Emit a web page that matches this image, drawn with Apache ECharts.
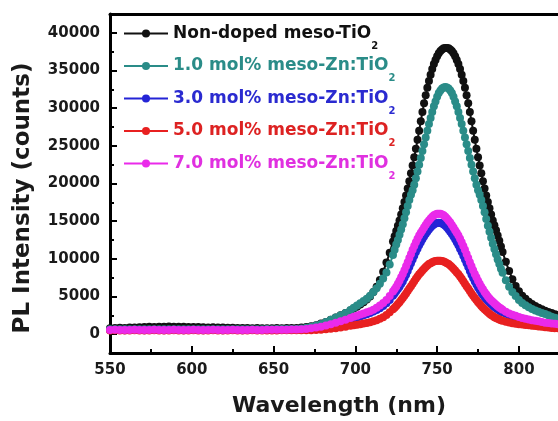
<!DOCTYPE html>
<html><head><meta charset="utf-8">
<script src="https://cdn.jsdelivr.net/npm/echarts@6/dist/echarts.min.js"></script>
<style>html,body{margin:0;padding:0;background:#fff}#c{width:558px;height:421px}</style>
</head><body><div id="c"></div>
<script>
// ---------- data ----------
const wavelength = [
550,553,556,559,562,565,568,571,574,577,580,583,586,589,592,595,598,601,604,607,610,613,616,619,622,625,628,631,634,637,640,643,646,649,652,655,658,661,
664,667,670,673,676,679,682,685,688,691,694,697,
699,701,703,705,707,709,711,713,715,717,719,721,723,
724,725,726,727,728,729,730,731,732,733,
734,735,736,737,738,739,740,741,742,743,
744,745,746,747,748,749,750,751,752,753,
754,755,756,757,758,759,760,761,762,763,
764,765,766,767,768,769,770,771,772,773,
774,775,776,777,778,779,780,781,782,783,
784,785,786,787,788,789,790,
792,794,796,798,800,802,804,806,808,810,812,814,816,818,820,822,824,826,828,830];

const nonDoped = [
800,820,850,830,870,900,920,950,980,960,1000,980,1010,990,970,990,960,940,950,920,900,910,880,870,850,840,830,820,810,800,810,800,790,800,810,800,810,820,
830,870,950,1050,1200,1400,1600,1900,2200,2500,2800,3150,
3400,3650,3950,4250,4600,5000,5600,6300,7200,8300,9500,10800,12300,
13000,13700,14400,15100,15900,16700,17550,18400,19350,20300,
21350,22400,23500,24600,25800,27000,28250,29500,30650,31700,
32700,33600,34450,35200,35850,36400,36900,37300,37600,37800,
37950,38000,38000,37950,37800,37600,37300,36900,36400,35850,
35200,34450,33600,32700,31700,30650,29500,28250,27000,25800,
24600,23500,22400,21350,20300,19350,18400,17550,16700,15900,
15100,14450,13800,13100,12400,11650,10900,
9600,8400,7300,6400,5700,5100,4700,4300,4000,3750,3500,3300,3100,2950,2800,2650,2500,2350,2250,2150];

const zn10 = [
650,640,660,650,640,660,650,640,650,660,650,640,650,660,650,640,650,660,650,640,650,660,650,640,650,660,650,640,650,660,650,660,670,660,670,680,690,700,
700,750,850,1000,1150,1350,1600,1900,2200,2500,2800,3200,
3500,3800,4100,4400,4700,5100,5600,6100,6700,7400,8200,9250,10500,
11200,11900,12500,13200,13900,14600,15400,16200,17000,17800,
18500,19100,19850,20700,21600,22500,23400,24300,25200,26100,
27000,27900,28700,29500,30250,30900,31500,32000,32350,32600,
32750,32800,32750,32600,32350,32000,31500,30900,30250,29500,
28700,27900,27000,26100,25200,24300,23400,22500,21600,20700,
19850,19100,18500,17800,17000,16200,15300,14400,13600,12800,
12000,11300,10600,9900,9300,8700,8150,
7150,6300,5600,5050,4550,4150,3850,3580,3350,3150,2970,2820,2680,2500,2320,2180,2050,1950,1850,1750];

const zn30 = [
540,550,540,530,540,550,540,530,540,550,540,530,540,550,540,530,540,550,540,530,540,550,540,530,540,550,540,530,540,550,540,545,550,555,560,565,570,580,
590,600,640,700,780,880,1000,1150,1320,1500,1700,1900,
2050,2200,2350,2500,2650,2800,3000,3200,3450,3750,4100,4550,5100,
5400,5700,6000,6300,6650,7000,7450,7900,8400,8900,
9400,9900,10400,10900,11350,11800,12200,12600,12950,13300,
13600,13900,14170,14400,14570,14700,14770,14800,14770,14700,
14570,14400,14170,13900,13600,13300,12950,12600,12200,11800,
11350,10900,10400,9900,9400,8900,8400,7900,7450,7000,
6600,6200,5850,5500,5200,4900,4650,4400,4200,4000,
3800,3600,3450,3300,3150,3000,2900,
2700,2500,2380,2250,2130,2020,1920,1820,1730,1650,1580,1500,1420,1370,1320,1280,1240,1200,1160,1120];

const zn50 = [
500,510,500,490,500,510,500,490,500,510,500,490,500,510,500,490,500,510,500,490,500,510,500,490,500,510,500,490,500,510,500,500,500,500,500,505,505,505,
505,510,520,530,560,600,650,720,800,900,1000,1120,
1180,1250,1320,1400,1480,1580,1700,1850,2050,2250,2550,2900,3300,
3520,3750,4000,4250,4520,4800,5100,5400,5720,6050,
6370,6700,7020,7350,7650,7950,8200,8450,8680,8900,
9100,9300,9430,9550,9630,9700,9730,9750,9730,9700,
9630,9550,9430,9300,9100,8900,8680,8450,8200,7950,
7650,7350,7020,6700,6370,6050,5720,5400,5100,4800,
4520,4250,4000,3750,3520,3300,3100,2900,2720,2550,
2400,2250,2150,2050,1950,1850,1780,
1650,1550,1450,1380,1320,1270,1220,1170,1120,1070,1020,970,920,880,830,800,780,760,740,720];

const zn70 = [
560,570,560,550,560,570,560,550,560,570,560,550,560,570,560,550,560,570,560,550,560,570,560,550,560,570,560,550,560,570,560,560,570,580,580,590,600,610,
630,650,700,780,880,1000,1150,1300,1500,1700,1920,2150,
2300,2450,2600,2750,2900,3050,3250,3500,3800,4150,4550,5050,5650,
5950,6300,6700,7100,7550,8000,8500,9000,9550,10100,
10650,11200,11700,12200,12650,13100,13450,13800,14150,14500,
14820,15100,15370,15600,15770,15900,15970,16000,15970,15900,
15770,15600,15370,15100,14820,14500,14150,13800,13450,13100,
12650,12200,11700,11200,10650,10100,9550,9000,8500,8000,
7550,7100,6700,6300,5950,5600,5300,5000,4750,4500,
4300,4100,3900,3700,3550,3400,3250,
2980,2750,2580,2430,2280,2150,2050,1950,1850,1780,1700,1600,1520,1480,1430,1380,1330,1290,1260,1230];

const seriesNames = [
  'Non-doped meso-TiO2',
  '1.0 mol% meso-Zn:TiO2',
  '3.0 mol% meso-Zn:TiO2',
  '5.0 mol% meso-Zn:TiO2',
  '7.0 mol% meso-Zn:TiO2'
];
const seriesValues = [nonDoped, zn10, zn30, zn50, zn70];
const xTickMin = 550, xTickMax = 830, xTickStep = 50;
const yTickMin = 0, yTickMax = 40000, yTickStep = 5000;

// ---------- style ----------
const FONT = '"DejaVu Sans", sans-serif';
const lineColors = ['#111111', '#2a8c88', '#2424d6', '#e82020', '#ea2aea'];
const textColors = ['#111111', '#2a8c88', '#2a2ad0', '#dd2222', '#e030e0'];
const legendCenters = [33.5, 66, 98.5, 131, 163.5];

const chart = echarts.init(document.getElementById('c'), null, {renderer: 'canvas'});
const tickStyle = {color: '#000', width: 2};
const labelStyle = {color: '#1a1a1a', fontFamily: FONT, fontWeight: 'bold', fontSize: 15};

const option = {
  animation: false,
  backgroundColor: '#ffffff',
  grid: [
    {left: 110, top: 14, width: 458, height: 339, containLabel: false, outerBoundsMode: 'none'},
    {left: 110, top: 14, width: 458, height: 320.17, containLabel: false, outerBoundsMode: 'none'}
  ],
  xAxis: [
    {gridIndex: 0, type: 'value', min: xTickMin, max: xTickMax, interval: xTickStep, position: 'bottom',
     axisLine: {show: true, onZero: false, lineStyle: {color: '#000', width: 3}},
     axisTick: {show: true, inside: true, length: 7, lineStyle: tickStyle},
     axisLabel: Object.assign({margin: 10, formatter: v => (v <= 800 ? String(v) : '')}, labelStyle),
     splitLine: {show: false},
     name: 'Wavelength (nm)', nameLocation: 'middle', nameGap: 42,
     nameTextStyle: {color: '#1a1a1a', fontFamily: FONT, fontWeight: 'bold', fontSize: 22}},
    {gridIndex: 0, type: 'value', min: xTickMin, max: xTickMax, interval: xTickStep / 2, position: 'bottom',
     axisLine: {show: false, onZero: false},
     axisTick: {show: true, inside: true, length: 4, lineStyle: tickStyle},
     axisLabel: {show: false}, splitLine: {show: false}},
    {gridIndex: 0, type: 'value', min: xTickMin, max: xTickMax, position: 'top',
     axisLine: {show: true, onZero: false, lineStyle: {color: '#000', width: 3}},
     axisTick: {show: false}, axisLabel: {show: false}, splitLine: {show: false}},
    {gridIndex: 1, type: 'value', min: xTickMin, max: xTickMax, show: false,
     axisLine: {onZero: false}, splitLine: {show: false}}
  ],
  yAxis: [
    {gridIndex: 0, type: 'value', min: -2500, max: 42500, interval: yTickStep / 2, position: 'left',
     axisLine: {show: true, onZero: false, lineStyle: {color: '#000', width: 3}},
     axisTick: {show: true, inside: true, length: 4, lineStyle: tickStyle},
     axisLabel: {show: false}, splitLine: {show: false}},
    {gridIndex: 1, type: 'value', min: yTickMin, max: 42500, interval: yTickStep, position: 'left',
     axisLine: {show: false, onZero: false},
     axisTick: {show: true, inside: true, length: 7, lineStyle: tickStyle},
     axisLabel: Object.assign({margin: 10, formatter: v => (v <= yTickMax ? String(v) : '')}, labelStyle),
     splitLine: {show: false}}
  ],
  legend: seriesNames.map((n, i) => ({
    data: [n], left: 123, top: legendCenters[i] - 17.5, padding: 0,
    itemWidth: 44, itemHeight: 10, selectedMode: false,
    formatter: nm => '{t|' + nm.slice(0, -1) + '}{s|' + nm.slice(-1) + '}',
    textStyle: {color: textColors[i], fontFamily: FONT, fontWeight: 'bold', fontSize: 17, lineHeight: 35,
      rich: {
        t: {color: textColors[i], fontFamily: FONT, fontWeight: 'bold', fontSize: 17, lineHeight: 35, verticalAlign: 'middle'},
        s: {color: textColors[i], fontFamily: FONT, fontWeight: 'bold', fontSize: 10, lineHeight: 11, verticalAlign: 'bottom'}
      }}
  })),
  graphic: [{
    type: 'text', x: 23, y: 198, rotation: Math.PI / 2,
    style: {text: 'PL Intensity (counts)', fill: '#1a1a1a', fontFamily: FONT, fontWeight: 'bold', fontSize: 23,
            textAlign: 'center', textVerticalAlign: 'middle', verticalAlign: 'middle'}
  }],
  series: seriesNames.map((n, i) => ({
    name: n, type: 'line', xAxisIndex: 0, yAxisIndex: 0,
    data: wavelength.map((x, k) => [x, seriesValues[i][k]]),
    symbol: 'circle', symbolSize: 8, showSymbol: true,
    lineStyle: {color: lineColors[i], width: 2},
    itemStyle: {color: lineColors[i], borderColor: lineColors[i], borderWidth: 0},
    emphasis: {disabled: true},
    z: 2 + i
  }))
};
chart.setOption(option);
</script>
</body></html>
